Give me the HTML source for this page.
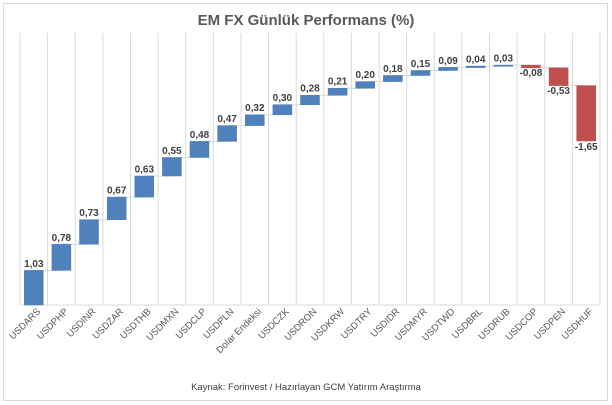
<!DOCTYPE html>
<html><head><meta charset="utf-8"><style>
html,body{margin:0;padding:0;background:#fff;}
svg{display:block;font-family:"Liberation Sans",sans-serif;}
</style></head><body>
<svg width="612" height="405" viewBox="0 0 612 405" xmlns="http://www.w3.org/2000/svg">
<rect x="3.5" y="3.5" width="604" height="397" fill="#fff" stroke="#d9d9d9"/>
<text x="306" y="25" text-anchor="middle" font-size="15" font-weight="bold" fill="#595959">EM FX Günlük Performans (%)</text>
<g stroke="#d9d9d9" stroke-width="1">
<line x1="20" y1="33" x2="20" y2="305"/><line x1="47.6" y1="33" x2="47.6" y2="305"/><line x1="75.2" y1="33" x2="75.2" y2="305"/><line x1="102.9" y1="33" x2="102.9" y2="305"/><line x1="130.5" y1="33" x2="130.5" y2="305"/><line x1="158.1" y1="33" x2="158.1" y2="305"/><line x1="185.7" y1="33" x2="185.7" y2="305"/><line x1="213.3" y1="33" x2="213.3" y2="305"/><line x1="241" y1="33" x2="241" y2="305"/><line x1="268.6" y1="33" x2="268.6" y2="305"/><line x1="296.2" y1="33" x2="296.2" y2="305"/><line x1="323.8" y1="33" x2="323.8" y2="305"/><line x1="351.4" y1="33" x2="351.4" y2="305"/><line x1="379.1" y1="33" x2="379.1" y2="305"/><line x1="406.7" y1="33" x2="406.7" y2="305"/><line x1="434.3" y1="33" x2="434.3" y2="305"/><line x1="461.9" y1="33" x2="461.9" y2="305"/><line x1="489.5" y1="33" x2="489.5" y2="305"/><line x1="517.1" y1="33" x2="517.1" y2="305"/><line x1="544.8" y1="33" x2="544.8" y2="305"/><line x1="572.4" y1="33" x2="572.4" y2="305"/><line x1="600" y1="33" x2="600" y2="305"/>
<line x1="20" y1="305" x2="600" y2="305"/>
</g>
<g stroke="#d9d9d9" stroke-width="1">
<line x1="33.8" y1="270.4" x2="61.4" y2="270.4"/><line x1="61.4" y1="244.2" x2="89" y2="244.2"/><line x1="89" y1="219.7" x2="116.7" y2="219.7"/><line x1="116.7" y1="197.1" x2="144.3" y2="197.1"/><line x1="144.3" y1="176" x2="171.9" y2="176"/><line x1="171.9" y1="157.5" x2="199.5" y2="157.5"/><line x1="199.5" y1="141.4" x2="227.1" y2="141.4"/><line x1="227.1" y1="125.6" x2="254.8" y2="125.6"/><line x1="254.8" y1="114.8" x2="282.4" y2="114.8"/><line x1="282.4" y1="104.7" x2="310" y2="104.7"/><line x1="310" y1="95.3" x2="337.6" y2="95.3"/><line x1="337.6" y1="88.3" x2="365.2" y2="88.3"/><line x1="365.2" y1="81.6" x2="392.9" y2="81.6"/><line x1="392.9" y1="75.5" x2="420.5" y2="75.5"/><line x1="420.5" y1="70.5" x2="448.1" y2="70.5"/><line x1="448.1" y1="67.4" x2="475.7" y2="67.4"/><line x1="475.7" y1="66.1" x2="503.3" y2="66.1"/><line x1="503.3" y1="65.1" x2="530.9" y2="65.1"/><line x1="530.9" y1="67.8" x2="558.6" y2="67.8"/><line x1="558.6" y1="85.6" x2="586.2" y2="85.6"/>
</g>
<g fill="#4f81bd" stroke="#4a7ab3" stroke-width="0.5">
<rect x="24.3" y="270.4" width="19" height="34.6"/>
<rect x="51.9" y="244.2" width="19" height="26.2"/>
<rect x="79.5" y="219.7" width="19" height="24.5"/>
<rect x="107.2" y="197.1" width="19" height="22.6"/>
<rect x="134.8" y="176" width="19" height="21.1"/>
<rect x="162.4" y="157.5" width="19" height="18.5"/>
<rect x="190" y="141.4" width="19" height="16.1"/>
<rect x="217.6" y="125.6" width="19" height="15.8"/>
<rect x="245.3" y="114.8" width="19" height="10.8"/>
<rect x="272.9" y="104.7" width="19" height="10.1"/>
<rect x="300.5" y="95.3" width="19" height="9.4"/>
<rect x="328.1" y="88.3" width="19" height="7"/>
<rect x="355.7" y="81.6" width="19" height="6.7"/>
<rect x="383.4" y="75.5" width="19" height="6.1"/>
<rect x="411" y="70.5" width="19" height="5"/>
<rect x="438.6" y="67.4" width="19" height="3.1"/>
<rect x="466.2" y="66.1" width="19" height="1.5"/>
<rect x="493.8" y="65.1" width="19" height="1.2"/>
</g>
<g fill="#c0504d" stroke="#b44a47" stroke-width="0.5">
<rect x="521.4" y="65.1" width="19" height="2.7"/>
<rect x="549.1" y="67.8" width="19" height="17.8"/>
<rect x="576.7" y="85.6" width="19" height="55.4"/>
</g>
<g font-size="10" font-weight="bold" fill="#404040" text-anchor="middle">
<text x="33.8" y="267">1,03</text><text x="61.4" y="241">0,78</text><text x="89" y="216">0,73</text><text x="116.7" y="193.5">0,67</text><text x="144.3" y="172.5">0,63</text><text x="171.9" y="154">0,55</text><text x="199.5" y="138">0,48</text><text x="227.1" y="122">0,47</text><text x="254.8" y="111">0,32</text><text x="282.4" y="101">0,30</text><text x="310" y="91.5">0,28</text><text x="337.6" y="84.5">0,21</text><text x="365.2" y="78">0,20</text><text x="392.9" y="72">0,18</text><text x="420.5" y="67">0,15</text><text x="448.1" y="64">0,09</text><text x="475.7" y="62.5">0,04</text><text x="503.3" y="61.5">0,03</text>
<text x="530.9" y="76">-0,08</text><text x="558.6" y="94">-0,53</text><text x="586.2" y="150">-1,65</text>
</g>
<g font-size="9.5" fill="#595959" text-anchor="end">
<text transform="translate(41,312) rotate(-45)">USDARS</text>
<text transform="translate(68.6,312) rotate(-45)">USDPHP</text>
<text transform="translate(96.2,312) rotate(-45)">USDINR</text>
<text transform="translate(123.9,312) rotate(-45)">USDZAR</text>
<text transform="translate(151.5,312) rotate(-45)">USDTHB</text>
<text transform="translate(179.1,312) rotate(-45)">USDMXN</text>
<text transform="translate(206.7,312) rotate(-45)">USDCLP</text>
<text transform="translate(234.3,312) rotate(-45)">USDPLN</text>
<text transform="translate(262,312) rotate(-45)">Dolar Endeksi</text>
<text transform="translate(289.6,312) rotate(-45)">USDCZK</text>
<text transform="translate(317.2,312) rotate(-45)">USDRON</text>
<text transform="translate(344.8,312) rotate(-45)">USDKRW</text>
<text transform="translate(372.4,312) rotate(-45)">USDTRY</text>
<text transform="translate(400.1,312) rotate(-45)">USDIDR</text>
<text transform="translate(427.7,312) rotate(-45)">USDMYR</text>
<text transform="translate(455.3,312) rotate(-45)">USDTWD</text>
<text transform="translate(482.9,312) rotate(-45)">USDBRL</text>
<text transform="translate(510.5,312) rotate(-45)">USDRUB</text>
<text transform="translate(538.1,312) rotate(-45)">USDCOP</text>
<text transform="translate(565.8,312) rotate(-45)">USDPEN</text>
<text transform="translate(593.4,312) rotate(-45)">USDHUF</text>
</g>
<text x="306" y="390" text-anchor="middle" font-size="9.5" fill="#404040">Kaynak: Forinvest / Hazırlayan GCM Yatırım Araştırma</text>
</svg>
</body></html>
